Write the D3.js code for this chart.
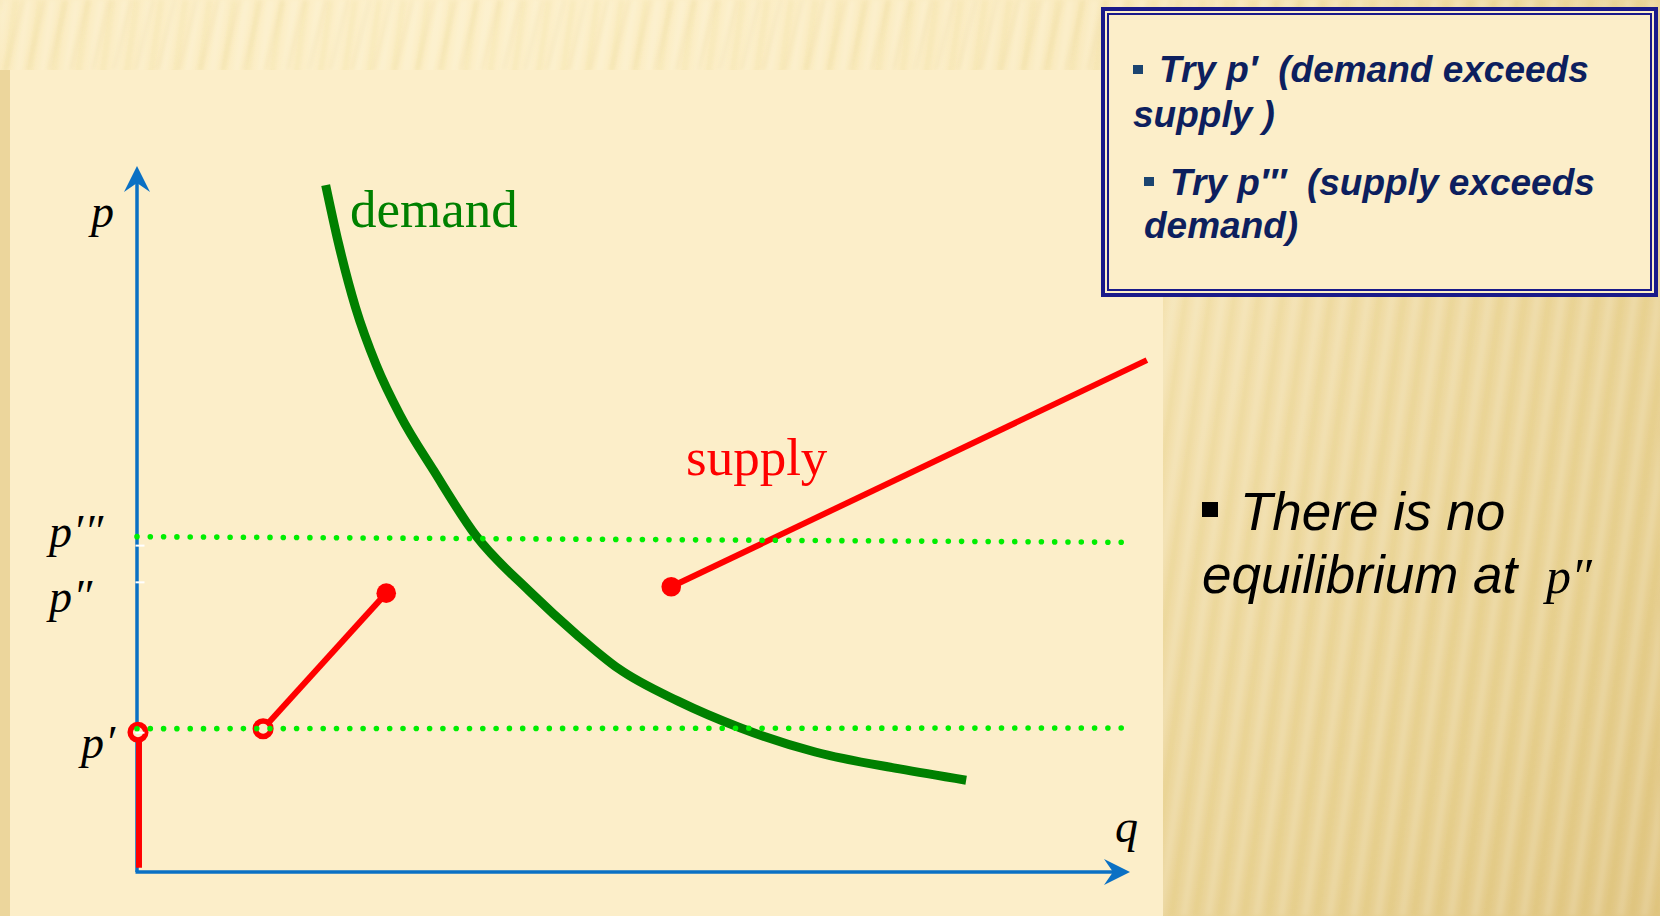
<!DOCTYPE html>
<html>
<head>
<meta charset="utf-8">
<script src="https://cdn.jsdelivr.net/npm/d3@7"></script>
<style>
  html, body { margin: 0; padding: 0; background: #FBEBC3; }
  svg { display: block; }
  text { white-space: pre; }
</style>
</head>
<body>
<svg id="chart" width="1660" height="916"></svg>
<script>
// ---------------- data ----------------
// demand curve, in chart units (q, p)
const demandQ = [1.90, 2.03, 2.20, 2.41, 2.65, 2.99, 3.41, 3.95, 4.43, 4.85, 5.45, 6.08, 6.83, 7.68, 8.35];
const demandP = [9.73, 8.90, 8.00, 7.18, 6.47, 5.68, 4.77, 3.98, 3.36, 2.88, 2.42, 2.04, 1.70, 1.46, 1.30];

// supply: three pieces
const supplyVertQ = [0.02, 0.02];
const supplyVertP = [0.06, 1.98];
const supplyLowQ = [1.27, 2.51];
const supplyLowP = [2.03, 3.95];
const supplyHighQ = [5.38, 10.17];
const supplyHighP = [4.04, 7.25];
// open / filled end points
const openQ = [0.01, 1.27];
const openP = [1.98, 2.03];
const filledQ = [2.51, 5.38];
const filledP = [3.95, 4.04];

// dotted price guides: p' and p'''
const guideQ = [0, 9.98];
const guideStartP = [2.03, 4.75];
const guideEndP = [2.04, 4.67];

// price ticks on the p axis
const tickValues = [1.98, 4.11, 4.63];
const tickLabels = ["p\u2032", "p\u2033", "p\u2032\u2033"];

// axis titles and curve labels
const axisTitles = ["p", "q"];
const curveLabels = ["demand", "supply"];

// side texts
const boxLines = ["Try p\u2032  (demand exceeds", "supply )", "Try p\u2033\u2032  (supply exceeds", "demand)"];
const noteLines = ["There is no", "equilibrium at "];
const noteSymbol = "p\u2033";

// ---------------- drawing ----------------
const svg = d3.select("#chart");
const W = 1660, H = 916;
const defs = svg.append("defs");

// background gradients / stripes
const rg = defs.append("radialGradient").attr("id", "bgGrad")
  .attr("gradientUnits", "userSpaceOnUse").attr("cx", 450).attr("cy", -150).attr("r", 1700);
[["0", "#FDF0CA"], ["0.38", "#FAEBC0"], ["0.6", "#F0DCA6"], ["0.8", "#E8D193"], ["1", "#DEC27E"]]
  .forEach(s => rg.append("stop").attr("offset", s[0]).attr("stop-color", s[1]));

const blur = defs.append("filter").attr("id", "soft").attr("x", "-5%").attr("y", "-5%").attr("width", "110%").attr("height", "110%");
blur.append("feGaussianBlur").attr("stdDeviation", 2.2);

const pat = defs.append("pattern").attr("id", "stripes").attr("patternUnits", "userSpaceOnUse")
  .attr("width", 24).attr("height", 40).attr("patternTransform", "rotate(8)");
pat.append("rect").attr("x", 0).attr("y", 0).attr("width", 8).attr("height", 40).attr("fill", "#ffffff").attr("opacity", 0.14);
pat.append("rect").attr("x", 13).attr("y", 0).attr("width", 5).attr("height", 40).attr("fill", "#B8902E").attr("opacity", 0.06);

const pat2 = defs.append("pattern").attr("id", "stripesTop").attr("patternUnits", "userSpaceOnUse")
  .attr("width", 21).attr("height", 80).attr("patternTransform", "rotate(14)");
pat2.append("rect").attr("x", 0).attr("y", 0).attr("width", 3).attr("height", 80).attr("fill", "#D9B860").attr("opacity", 0.14);

svg.append("rect").attr("width", W).attr("height", H).attr("fill", "url(#bgGrad)");
svg.append("rect").attr("width", W).attr("height", H).attr("fill", "url(#stripes)").attr("filter", "url(#soft)");
svg.append("rect").attr("width", W).attr("height", 70).attr("fill", "url(#stripesTop)").attr("filter", "url(#soft)");
svg.append("rect").attr("x", 0).attr("y", 70).attr("width", 10).attr("height", H - 70).attr("fill", "#ECD69C");

// main cream panel
svg.append("rect").attr("x", 10).attr("y", 70).attr("width", 1153).attr("height", H - 70).attr("fill", "#FCEEC9");

// scales
const x = d3.scaleLinear().domain([0, 10]).range([137, 1130]);
const y = d3.scaleLinear().domain([0, 10]).range([872, 166]);

const AXIS = "#0A70C4";
const g = svg.append("g");

// axes (arrows)
const arrowLen = 26, arrowNotch = 17, arrowHalf = 13;
g.append("line").attr("x1", x(0)).attr("y1", y(0)).attr("x2", x(0)).attr("y2", y(10) + arrowNotch)
  .attr("stroke", AXIS).attr("stroke-width", 3.5);
g.append("line").attr("x1", x(0) - 1.5).attr("y1", y(0)).attr("x2", x(10) - arrowNotch).attr("y2", y(0))
  .attr("stroke", AXIS).attr("stroke-width", 3.5);
g.append("path")
  .attr("d", `M${x(0)},${y(10)} L${x(0) + arrowHalf},${y(10) + arrowLen} L${x(0)},${y(10) + arrowNotch} L${x(0) - arrowHalf},${y(10) + arrowLen} Z`)
  .attr("fill", AXIS);
g.append("path")
  .attr("d", `M${x(10)},${y(0)} L${x(10) - arrowLen},${y(0) - arrowHalf} L${x(10) - arrowNotch},${y(0)} L${x(10) - arrowLen},${y(0) + arrowHalf} Z`)
  .attr("fill", AXIS);

// demand curve
const demandPts = demandQ.map((q, i) => [q, demandP[i]]);
const lineGen = d3.line().x(d => x(d[0])).y(d => y(d[1])).curve(d3.curveMonotoneX);
g.append("path").datum(demandPts).attr("d", lineGen)
  .attr("fill", "none").attr("stroke", "#008000").attr("stroke-width", 9).attr("stroke-linecap", "butt");

// supply pieces
const straight = d3.line().x(d => x(d[0])).y(d => y(d[1]));
[[supplyVertQ, supplyVertP], [supplyLowQ, supplyLowP], [supplyHighQ, supplyHighP]].forEach(([qs, ps]) => {
  g.append("path").datum(qs.map((q, i) => [q, ps[i]])).attr("d", straight)
    .attr("fill", "none").attr("stroke", "#FF0000").attr("stroke-width", 6);
});
g.selectAll("circle.open").data(openQ.map((q, i) => [q, openP[i]])).join("circle")
  .attr("class", "open").attr("cx", d => x(d[0])).attr("cy", d => y(d[1])).attr("r", 7.8)
  .attr("fill", "#FCEEC9").attr("stroke", "#FF0000").attr("stroke-width", 5.5);
g.selectAll("circle.filled").data(filledQ.map((q, i) => [q, filledP[i]])).join("circle")
  .attr("class", "filled").attr("cx", d => x(d[0])).attr("cy", d => y(d[1])).attr("r", 9.8)
  .attr("fill", "#FF0000");

// dotted guides
guideStartP.forEach((p0, i) => {
  g.append("line").attr("x1", x(guideQ[0])).attr("y1", y(p0)).attr("x2", x(guideQ[1])).attr("y2", y(guideEndP[i]))
    .attr("stroke", "#00EE00").attr("stroke-width", 5.6).attr("stroke-linecap", "round")
    .attr("stroke-dasharray", "0 13.3");
});

// white ticks on p axis
const tickAxis = d3.axisRight(y).tickValues(tickValues).tickSize(9).tickFormat("");
const ta = g.append("g").attr("transform", `translate(${x(0) - 1.5},0)`).call(tickAxis);
ta.select(".domain").remove();
ta.selectAll(".tick line").attr("stroke", "#FFFFFF").attr("stroke-width", 2);

// tick labels (p', p'', p''')
const tickLabelX = [81, 49, 49];
const tickLabelDy = [26, 30, 2];
g.selectAll("text.tl").data(tickLabels).join("text").attr("class", "tl")
  .attr("x", (d, i) => tickLabelX[i]).attr("y", (d, i) => y(tickValues[i]) + tickLabelDy[i])
  .attr("font-family", "'Liberation Serif', 'Times New Roman', serif").attr("font-style", "italic")
  .attr("font-size", 46).attr("letter-spacing", 1).attr("fill", "#000").text(d => d);

// axis titles
g.append("text").attr("x", 91).attr("y", 227).text(axisTitles[0])
  .attr("font-family", "'Liberation Serif', serif").attr("font-style", "italic").attr("font-size", 46).attr("fill", "#000");
g.append("text").attr("x", 1115).attr("y", 842).text(axisTitles[1])
  .attr("font-family", "'Liberation Serif', serif").attr("font-style", "italic").attr("font-size", 46).attr("fill", "#000");

// curve labels
g.append("text").attr("x", 350).attr("y", 227).text(curveLabels[0])
  .attr("font-family", "'Liberation Serif', serif").attr("font-size", 53).attr("fill", "#008000");
g.append("text").attr("x", 686).attr("y", 475).text(curveLabels[1])
  .attr("font-family", "'Liberation Serif', serif").attr("font-size", 53).attr("fill", "#FF0000");

// ---------------- text box (top right) ----------------
const box = svg.append("g");
box.append("rect").attr("x", 1103).attr("y", 9).attr("width", 553).attr("height", 286)
  .attr("fill", "#FCEEC9").attr("stroke", "#1A1A8A").attr("stroke-width", 4);
box.append("rect").attr("x", 1108).attr("y", 14).attr("width", 543).attr("height", 276)
  .attr("fill", "none").attr("stroke", "#1A1A8A").attr("stroke-width", 2);
const boxX = [1159, 1133, 1170, 1144];
const boxY = [82, 127, 195, 238];
box.selectAll("text").data(boxLines).join("text")
  .attr("x", (d, i) => boxX[i]).attr("y", (d, i) => boxY[i])
  .attr("font-family", "'Liberation Sans', Arial, sans-serif").attr("font-weight", "bold").attr("font-style", "italic")
  .attr("font-size", 37).attr("fill", "#0D1F5E").text(d => d);
box.append("rect").attr("x", 1133).attr("y", 65).attr("width", 10).attr("height", 9).attr("fill", "#1B4470");
box.append("rect").attr("x", 1144).attr("y", 177).attr("width", 10).attr("height", 9).attr("fill", "#1B4470");

// ---------------- note (right) ----------------
const note = svg.append("g");
note.append("rect").attr("x", 1202).attr("y", 502).attr("width", 16).attr("height", 15).attr("fill", "#000");
const noteX = [1240, 1202];
const noteY = [530, 593];
note.selectAll("text.n").data(noteLines).join("text").attr("class", "n")
  .attr("x", (d, i) => noteX[i]).attr("y", (d, i) => noteY[i])
  .attr("font-family", "'Liberation Sans', Arial, sans-serif").attr("font-style", "italic")
  .attr("font-size", 53).attr("fill", "#000").text(d => d);
note.append("text").attr("x", 1546).attr("y", 593).text(noteSymbol)
  .attr("font-family", "'Liberation Serif', serif").attr("font-style", "italic").attr("font-size", 50).attr("fill", "#000");
</script>
</body>
</html>
